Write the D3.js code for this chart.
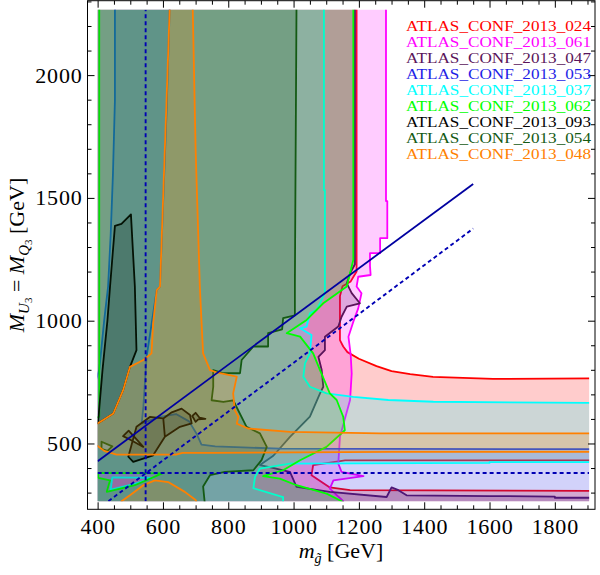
<!DOCTYPE html>
<html>
<head>
<meta charset="utf-8">
<script src="https://cdn.jsdelivr.net/npm/d3@7"></script>
<style>
  body { margin: 0; background: #fff; }
  svg text { font-family: "Liberation Serif", "DejaVu Serif", serif; }
</style>
</head>
<body>
<svg id="chart" width="600" height="575"></svg>
<script>
// analyses, in the order they are stacked
const analyses = ['ATLAS_CONF_2013_024', 'ATLAS_CONF_2013_061', 'ATLAS_CONF_2013_047',
  'ATLAS_CONF_2013_053', 'ATLAS_CONF_2013_037', 'ATLAS_CONF_2013_062',
  'ATLAS_CONF_2013_093', 'ATLAS_CONF_2013_054', 'ATLAS_CONF_2013_048'];
const colors = ['#ff0000', '#ff00ff', '#5a145a', '#1e1ee6', '#00ffff', '#00ff00', '#000000', '#145a14', '#ff8000'];

// plot range and data range (GeV)
const xRange = [369, 1923], yRange = [232, 2303];
const xData = [400, 1905], yData = [265, 2266];
const xTicks = [400, 600, 800, 1000, 1200, 1400, 1600, 1800];
const yTicks = [500, 1000, 1500, 2000];

// excluded regions: [m_gluino, M_U3] boundary rings
const region024 = [
  [[380,245],[380,2285],[1193,2285],[1193,1200],[1175,1160],[1150,1140],[1142,1100],[1142,921],[1152,895],
   [1165,872],[1200,845],[1254,815],[1300,795],[1357,782],[1427,771],[1611,763],[1925,765],
   [1925,431],[1158,431],[1060,412],[1055,371],[1111,321],[1173,310],[1925,307],[1925,245]]
];
const region061 = [
  [[380,245],[380,2285],[1283,2285],[1283,1487],[1287,1487],[1287,1336],[1265,1336],[1265,1275],[1234,1275],
   [1234,1222],[1236,1186],[1198,1179],[1193,1139],[1208,1112],[1198,1050],[1183,996],[1168,935],[1175,860],
   [1178,785],[1173,677],[1142,527],[1137,418],[1147,384],[1214,367],[1122,350],[1111,316],[1152,265],[1152,245]]
];
const region047 = [
  [[380,245],[380,2285],[1188,2285],[1188,1230],[1173,1193],[1163,1152],[1178,1112],[1203,1071],[1163,1057],
   [1147,1016],[1137,976],[1096,935],[1096,880],[1076,853],[1086,800],[1091,731],[1081,704],[1050,609],
   [989,527],[938,450],[897,412],[940,400],[968,391],[989,384],[1009,323],[1111,303],[1285,282],[1300,321],
   [1321,310],[1346,289],[1600,286],[1800,284],[1800,279],[1925,279],[1925,245]]
];
const region053 = [
  [[380,245],[380,700],[405,800],[420,1000],[432,1139],[440,1350],[447,1600],[453,1900],[453,2285],
   [621,2285],[611,1845],[591,1139],[581,1125],[550,853],[540,649],[535,582],[591,608],[640,620],
   [680,590],[703,540],[718,495],[760,488],[958,479],[1300,478],[1925,477],[1925,245]]
];
const region037 = [
  [[380,245],[380,2285],[1093,2285],[1093,1532],[1096,1532],[1096,1112],[1071,1044],[1050,1030],[1040,976],
   [1020,969],[1055,942],[1050,867],[1035,826],[1030,772],[1050,731],[1101,704],[1183,690],[1290,677],
   [1428,670],[1925,665],[1925,424],[1600,424],[1600,421],[989,418],[897,398],[882,364],[877,318],
   [968,282],[968,245]],
  [[445,362],[570,360],[510,335],[440,312]]
];
const region062 = [
  [[405,2285],[1183,2285],[1183,1248],[1163,1139],[1091,1071],[1040,1003],[979,949],[1020,935],[1060,867],
   [1081,799],[1111,704],[1132,677],[1152,609],[1157,554],[1101,486],[1020,432],[968,391],[907,367],
   [958,357],[1009,330],[1101,296],[1152,262],[1152,245],[380,245],[380,600],[405,609]],
  [[402,380],[598,378],[514,330],[428,303],[438,350],[402,360]]
];
const region093 = [
  [[401,582],[415,800],[430,1000],[438,1139],[453,1386],[473,1394],[502,1433],[514,1139],[519,880],
   [499,812],[478,717],[448,622]],
  [[519,568],[560,608],[601,602],[606,527],[570,452],[509,425],[494,446]],
  [[601,602],[627,627],[657,642],[683,616],[688,582],[652,568],[606,527]],
  [[478,530],[495,552],[540,486],[500,515]],
  [[690,612],[700,625],[712,605],[730,600],[708,598],[700,588]]
];
const region054 = [
  [[380,245],[380,2285],[1009,2285],[1004,1153],[1004,1022],[968,1010],[965,965],[922,949],[922,895],
   [877,895],[841,840],[836,786],[785,786],[754,799],[754,731],[749,676],[785,669],[815,676],[856,568],
   [897,541],[918,486],[902,432],[877,391],[790,384],[744,371],[723,325],[729,245]],
  [[412,507],[445,488],[430,470],[412,478]]
];
const region048 = [
  [[621,2285],[691,2285],[700,1700],[713,1139],[718,1000],[723,867],[744,799],[764,790],[826,772],
   [815,704],[820,636],[831,608],[826,581],[861,561],[989,547],[1265,541],[1925,541],[1925,466],
   [1300,466],[754,462],[660,462],[640,455],[458,455],[420,470],[400,490],[380,495],[380,582],
   [401,582],[448,622],[478,717],[499,812],[540,840],[565,867],[570,989],[581,1125],[591,1139],[611,1898]],
  [[473,245],[473,265],[500,290],[540,330],[575,350],[616,343],[667,303],[700,270],[708,245]]
];
const regions = [region024, region061, region047, region053, region037, region062, region093, region054, region048];

// reference lines
const diagSolid = [[400,428],[1550,1557]];
const diagDashed = [[433,265],[1550,1375]];
const vDashed = [[547,265],[547,2266]];
const hDashed = [[400,380],[1905,380]];

const svg = d3.select('#chart');
const x = d3.scaleLinear().domain(xRange).range([87.5, 595]);
const y = d3.scaleLinear().domain(yRange).range([509.3, 0.7]);
const line = d3.line().x(d => x(d[0])).y(d => y(d[1]));

svg.append('clipPath').attr('id', 'clip')
  .append('rect')
  .attr('x', x(xData[0])).attr('y', y(yData[1]))
  .attr('width', x(xData[1]) - x(xData[0]))
  .attr('height', y(yData[0]) - y(yData[1]));

const plot = svg.append('g').attr('clip-path', 'url(#clip)');

regions.forEach((rings, i) => {
  plot.append('path')
    .attr('d', rings.map(r => line(r) + 'Z').join(''))
    .attr('fill', colors[i])
    .attr('fill-opacity', 0.2)
    .attr('fill-rule', 'evenodd')
    .attr('stroke', colors[i])
    .attr('stroke-width', 1.8)
    .attr('stroke-linejoin', 'round');
});

plot.append('path').attr('d', line(diagSolid))
  .attr('stroke', '#0000a0').attr('stroke-width', 1.8).attr('fill', 'none');
[diagDashed, vDashed, hDashed].forEach(l => {
  plot.append('path').attr('d', line(l))
    .attr('stroke', '#0000b4').attr('stroke-width', 1.9)
    .attr('stroke-dasharray', '4,3').attr('fill', 'none');
});

// frame
svg.append('rect')
  .attr('x', 87.5).attr('y', 0.7).attr('width', 507.5).attr('height', 508.6)
  .attr('fill', 'none').attr('stroke', '#000').attr('stroke-width', 1);

const xMinor = d3.range(400, 1901, 50).filter(v => !xTicks.includes(v));
const yMinor = d3.range(300, 2301, 100).filter(v => !yTicks.includes(v));

function drawAxis(axisFn, scale, ticks, len, pos, labels) {
  const g = svg.append('g').attr('transform', pos);
  const ax = axisFn(scale).tickValues(ticks).tickSizeInner(-len).tickSizeOuter(0);
  if (labels) ax.tickPadding(labels).tickFormat(d3.format('d')); else ax.tickFormat('');
  g.call(ax);
  g.select('.domain').remove();
  g.selectAll('text').attr('font-size', 22).attr('fill', '#000')
    .attr('letter-spacing', 0.8)
    .style('font-family', '"Liberation Serif", serif');
  return g;
}
drawAxis(d3.axisBottom, x, xTicks, 7, 'translate(0,509.3)', 9);
drawAxis(d3.axisBottom, x, xMinor, 4, 'translate(0,509.3)');
drawAxis(d3.axisTop, x, xTicks, 7, 'translate(0,0.7)');
drawAxis(d3.axisTop, x, xMinor, 4, 'translate(0,0.7)');
drawAxis(d3.axisLeft, y, yTicks, 7, 'translate(87.5,0)', 5);
drawAxis(d3.axisLeft, y, yMinor, 4, 'translate(87.5,0)');
drawAxis(d3.axisRight, y, yTicks, 7, 'translate(595,0)');
drawAxis(d3.axisRight, y, yMinor, 4, 'translate(595,0)');

// axis titles
const xt = svg.append('text').attr('x', 341).attr('y', 558)
  .attr('text-anchor', 'middle').attr('font-size', 22);
xt.append('tspan').attr('font-style', 'italic').text('m');
xt.append('tspan').attr('font-style', 'italic').attr('font-size', 14).attr('dy', 5).text('g\u0303');
xt.append('tspan').attr('dy', -5).text(' [GeV]');

const yt = svg.append('text').attr('transform', 'translate(24,255) rotate(-90)')
  .attr('text-anchor', 'middle').attr('font-size', 22);
yt.append('tspan').attr('font-style', 'italic').text('M');
yt.append('tspan').attr('font-style', 'italic').attr('font-size', 15).attr('dy', 5).text('U');
yt.append('tspan').attr('font-size', 11).attr('dy', 3).text('3');
yt.append('tspan').attr('dy', -8).text(' = ');
yt.append('tspan').attr('font-style', 'italic').text('M');
yt.append('tspan').attr('font-style', 'italic').attr('font-size', 15).attr('dy', 5).text('Q');
yt.append('tspan').attr('font-size', 11).attr('dy', 3).text('3');
yt.append('tspan').attr('dy', -8).text(' [GeV]');

// legend
svg.selectAll('.leg').data(analyses).enter().append('text')
  .attr('class', 'leg')
  .attr('x', 591).attr('y', (d, i) => 30.5 + i * 16)
  .attr('text-anchor', 'end').attr('font-size', 14.4)
  .attr('textLength', 185).attr('lengthAdjust', 'spacingAndGlyphs')
  .attr('fill', (d, i) => colors[i])
  .text(d => d);
</script>
</body>
</html>
